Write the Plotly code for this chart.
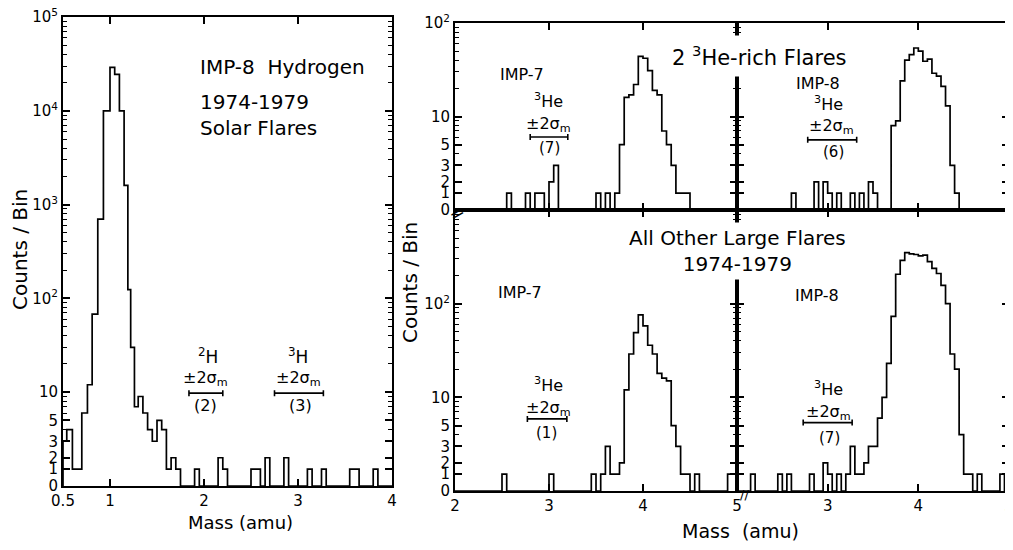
import math
import plotly.graph_objects as go

W, H = 1013, 550
FONT = "DejaVu Sans"
OFF = 8  # the page body margin shifts the figure by this many pixels

# ---------------- data (mass bins in amu, counts per bin) ----------------
# Left panel: IMP-8 hydrogen, 1974-1979 solar flares (bin low edge, high edge, counts)
h_lo = [0.50, 0.54, 0.60, 0.70, 0.76, 0.81, 0.87, 0.93, 1.00, 1.05, 1.10, 1.15, 1.19, 1.22,
        1.26, 1.30, 1.35, 1.40, 1.45, 1.50, 1.55, 1.60, 1.65, 1.70,
        1.90, 2.15, 2.20, 2.50, 2.65, 2.85, 3.10, 3.25, 3.55, 3.80]
h_hi = [0.54, 0.60, 0.70, 0.76, 0.81, 0.87, 0.93, 1.00, 1.05, 1.10, 1.15, 1.19, 1.22, 1.26,
        1.30, 1.35, 1.40, 1.45, 1.50, 1.55, 1.60, 1.65, 1.70, 1.75,
        1.95, 2.20, 2.25, 2.60, 2.70, 2.90, 3.15, 3.30, 3.65, 3.85]
h_n = [3, 4, 1, 6, 12, 68, 700, 10000, 29000, 24500, 10000, 1600, 124, 30,
       7, 9, 6, 4, 3, 5, 4, 1, 2, 1,
       1, 2, 1, 1, 2, 2, 1, 1, 1, 1]

BIN = 0.05  # bin width of the helium histograms (amu)

# 3He-rich flares, IMP-7
r7_lo = [2.55, 2.75, 2.85, 2.90, 3.00, 3.05, 3.50, 3.60, 3.70, 3.75, 3.80, 3.85, 3.90, 3.95,
         4.00, 4.05, 4.10, 4.15, 4.20, 4.25, 4.30, 4.35, 4.40, 4.45]
r7_n = [1, 1, 1, 1, 2, 3, 1, 1, 1, 5, 16, 17, 22, 44,
        42, 31, 19, 17, 7, 5, 3, 1, 1, 1]

# 3He-rich flares, IMP-8
r8_lo = [2.60, 2.85, 2.95, 3.00, 3.10, 3.25, 3.35, 3.45, 3.50, 3.70, 3.75, 3.80, 3.85, 3.90,
         3.95, 4.00, 4.05, 4.10, 4.15, 4.20, 4.25, 4.30, 4.35, 4.40]
r8_n = [1, 2, 2, 1, 1, 1, 1, 2, 1, 8, 9, 24, 40, 46,
        54, 50, 39, 41, 29, 27, 21, 13, 3, 1]

# All other large flares, IMP-7
o7_lo = [2.50, 3.00, 3.45, 3.55, 3.60, 3.65, 3.70, 3.75, 3.80, 3.85, 3.90, 3.95, 4.00, 4.05,
         4.10, 4.15, 4.20, 4.25, 4.30, 4.35, 4.40, 4.45, 4.55, 4.90, 4.95]
o7_n = [1, 1, 1, 1, 3, 1, 1, 2, 12, 29, 49, 76, 58, 36,
        29, 18, 16, 15, 5, 3, 1, 1, 1, 1, 1]

# All other large flares, IMP-8
o8_lo = [2.15, 2.45, 2.55, 2.80, 2.95, 3.00, 3.10, 3.20, 3.25, 3.30, 3.35, 3.40, 3.45, 3.50,
         3.55, 3.60, 3.65, 3.70, 3.75, 3.80, 3.85, 3.90, 3.95, 4.00, 4.05, 4.10, 4.15, 4.20,
         4.25, 4.30, 4.35, 4.40, 4.45, 4.50, 4.55, 4.65, 4.90]
o8_n = [1, 1, 1, 1, 2, 1, 1, 1, 3, 1, 1, 2, 3, 3,
        6, 10, 23, 73, 206, 290, 350, 340, 335, 323, 330, 281, 238, 210,
        157, 100, 29, 20, 4, 1, 1, 1, 1]

# +-2 sigma_m mass-resolution bars: centre (amu), half width (amu), height (count-scale units)
eb_h_x, eb_h_half, eb_h_y = [2.02, 3.01], [0.18, 0.26], [0.99, 0.99]
eb_r7 = (3.00, 0.20, 0.78)
eb_r8 = (3.05, 0.27, 0.75)
eb_o7 = (2.98, 0.21, 0.77)
eb_o8 = (3.00, 0.27, 0.73)

# Count-axis tick labels
lab_low = [0, 1, 2, 3, 5, 10]
minor_vals = [4, 6, 7, 8, 9] + [k * 10 ** d for d in range(1, 5) for k in range(2, 10)]


def f(n):
    """Scale used on the count axes: 0 and 1 compressed below a log scale."""
    if n <= 0:
        return 0.0
    if n < 2:
        return 0.18
    return math.log10(n)


def outline(lo, hi, n, xmin, xmax):
    xs, ys = [xmin], [0.0]
    cur = xmin
    for a, b, c in zip(lo, hi, n):
        if a > cur + 1e-9:
            xs.append(cur)
            ys.append(0.0)
        xs.append(a)
        ys.append(f(c))
        cur = b
    xs.append(cur)
    ys.append(0.0)
    xs.append(xmax)
    ys.append(0.0)
    return xs, ys


fig = go.Figure()


def hist(lo, hi, n, xa, ya, xmin, xmax):
    xs, ys = outline(lo, hi, n, xmin, xmax)
    fig.add_trace(go.Scatter(x=xs, y=ys, mode="lines", xaxis=xa, yaxis=ya,
                             line=dict(color="black", width=1.7, shape="hv"),
                             hoverinfo="skip", showlegend=False))


def ebar(xc, half, yv, xa, ya):
    fig.add_trace(go.Scatter(x=xc, y=yv, mode="markers", xaxis=xa, yaxis=ya,
                             marker=dict(size=1, color="rgba(0,0,0,0)"),
                             error_x=dict(type="data", array=half, symmetric=True,
                                          color="black", thickness=1.6, width=3),
                             hoverinfo="skip", showlegend=False))


hist(h_lo, h_hi, h_n, "x", "y", 0.5, 4.0)
hist(r7_lo, [v + BIN for v in r7_lo], r7_n, "x2", "y2", 2.0, 5.0)
hist(r8_lo, [v + BIN for v in r8_lo], r8_n, "x3", "y3", 2.0, 5.0)
hist(o7_lo, [v + BIN for v in o7_lo], o7_n, "x4", "y4", 2.0, 5.0)
hist(o8_lo, [v + BIN for v in o8_lo], o8_n, "x5", "y5", 2.0, 5.0)

ebar(eb_h_x, eb_h_half, eb_h_y, "x", "y")
for (c, hw, yy), xa, ya in [(eb_r7, "x2", "y2"), (eb_r8, "x3", "y3"),
                            (eb_o7, "x4", "y4"), (eb_o8, "x5", "y5")]:
    ebar([c], [hw], [yy], xa, ya)


def px_x(x):
    return (x - OFF) / W


def px_y(y):
    return 1 - (y - OFF) / H


common = dict(showline=True, linecolor="black", linewidth=2, ticks="inside", ticklen=7,
              tickwidth=1.5, tickcolor="black", showgrid=False, zeroline=False,
              mirror="ticks", fixedrange=True, automargin=False,
              ticklabeloverflow="allow",
              tickfont=dict(family=FONT, size=15, color="black"))


def yticks(top_dec, minor_top):
    vals = lab_low + [10 ** d for d in range(2, top_dec + 1)]
    text = [str(v) for v in lab_low] + ["10<sup>%d</sup>" % d for d in range(2, top_dec + 1)]
    mv = [f(v) for v in minor_vals if f(v) < minor_top and v not in vals]
    return dict(tickmode="array", tickvals=[f(v) for v in vals], ticktext=text,
                minor=dict(tickmode="array", tickvals=mv, ticks="inside", ticklen=4,
                           tickwidth=1.2, tickcolor="black"))


LX = [px_x(63), px_x(392)]
LY = [px_y(486), px_y(17)]
X7 = [px_x(455), px_x(737)]
X8 = [px_x(737), px_x(1009)]
YT = [px_y(210), px_y(23)]
YB = [px_y(491), px_y(210)]

fig.update_layout(
    width=W, height=H, autosize=False, margin=dict(l=0, r=0, t=0, b=0, autoexpand=False),
    paper_bgcolor="white", plot_bgcolor="white", showlegend=False,
    font=dict(family=FONT, color="black"),
    xaxis=dict(common, domain=LX, range=[0.5, 4.0], anchor="y", tickmode="array",
               tickvals=[0.5, 1, 2, 3, 4], ticktext=["0.5", "1", "2", "3", "4"]),
    yaxis=dict(common, domain=LY, range=[0, 5], anchor="x", **yticks(5, 5.01)),
    xaxis2=dict(common, domain=X7, range=[2, 5], anchor="y2", tickmode="array",
                tickvals=[3, 4], showticklabels=False),
    yaxis2=dict(common, domain=YT, range=[0, 2], anchor="x2", **yticks(2, 2.01)),
    xaxis3=dict(common, domain=X8, range=[2, 5], anchor="y3", tickmode="array",
                tickvals=[3, 4], showticklabels=False),
    yaxis3=dict(common, domain=YT, range=[0, 2], anchor="x3", showticklabels=False,
                **yticks(2, 2.01)),
    xaxis4=dict(common, domain=X7, range=[2, 5], anchor="y4", tickmode="array",
                tickvals=[2, 3, 4, 5], ticktext=["2", "3", "4", "5"]),
    yaxis4=dict(common, domain=YB, range=[0, 3], anchor="x4", **yticks(2, 2.99)),
    xaxis5=dict(common, domain=X8, range=[2, 5], anchor="y5", tickmode="array",
                tickvals=[3, 4, 5], ticktext=["3", "4", "5"]),
    yaxis5=dict(common, domain=YB, range=[0, 3], anchor="x5", showticklabels=False,
                **yticks(2, 2.99)),
)

ann = []


def A(x, y, text, size=17, xanchor="center", angle=0, bg=None, pad=1):
    d = dict(x=px_x(x), y=px_y(y), xref="paper", yref="paper", text=text, showarrow=False,
             xanchor=xanchor, yanchor="middle", textangle=angle,
             font=dict(family=FONT, size=size, color="black"), borderpad=pad)
    if bg:
        d["bgcolor"] = bg
    ann.append(d)


# left panel texts
A(198, 67, "IMP-8  Hydrogen", 20, "left")
A(198, 102, "1974-1979", 20, "left")
A(198, 128, "Solar Flares", 20, "left")
A(208, 356, "<sup>2</sup>H", 17)
A(205, 378, "±2σ<sub>m</sub>", 16)
A(205, 405, "(2)", 16)
A(298, 356, "<sup>3</sup>H", 17)
A(298, 378, "±2σ<sub>m</sub>", 16)
A(300, 405, "(3)", 16)
A(20, 250, "Counts / Bin", 20, angle=-90)
A(240, 522, "Mass (amu)", 18)
ann.append(dict(x=px_x(22), y=px_y(545), xref="paper", yref="paper", text="Fig. 1  (a,b)",
                showarrow=False, xanchor="left", yanchor="top",
                font=dict(family=FONT, size=20, color="black")))

# right block texts
A(665, 56, "2 <sup>3</sup>He-rich Flares", 21, "left", bg="white", pad=6)
A(522, 74, "IMP-7", 16)
A(548, 101, "<sup>3</sup>He", 16)
A(548, 124, "±2σ<sub>m</sub>", 16)
A(549, 148, "(7)", 15)
A(818, 83, "IMP-8", 16)
A(828, 103, "<sup>3</sup>He", 16)
A(831, 126, "±2σ<sub>m</sub>", 16)
A(833, 152, "(6)", 15)
A(737, 251, "All Other Large Flares<br>1974-1979", 20, bg="white", pad=3)
A(520, 292, "IMP-7", 16)
A(817, 295, "IMP-8", 16)
A(548, 384, "<sup>3</sup>He", 16)
A(548, 408, "±2σ<sub>m</sub>", 16)
A(546, 433, "(1)", 15)
A(828, 388, "<sup>3</sup>He", 16)
A(828, 412, "±2σ<sub>m</sub>", 16)
A(829, 438, "(7)", 15)
A(410, 283, "Counts / Bin", 20, angle=-90)
A(740, 531, "Mass  (amu)", 19)
# axis break marks
A(456, 213, "=", 18, angle=-30)
A(744, 494, "//", 13)

fig.update_layout(annotations=ann)
fig.write_html("out.html")
